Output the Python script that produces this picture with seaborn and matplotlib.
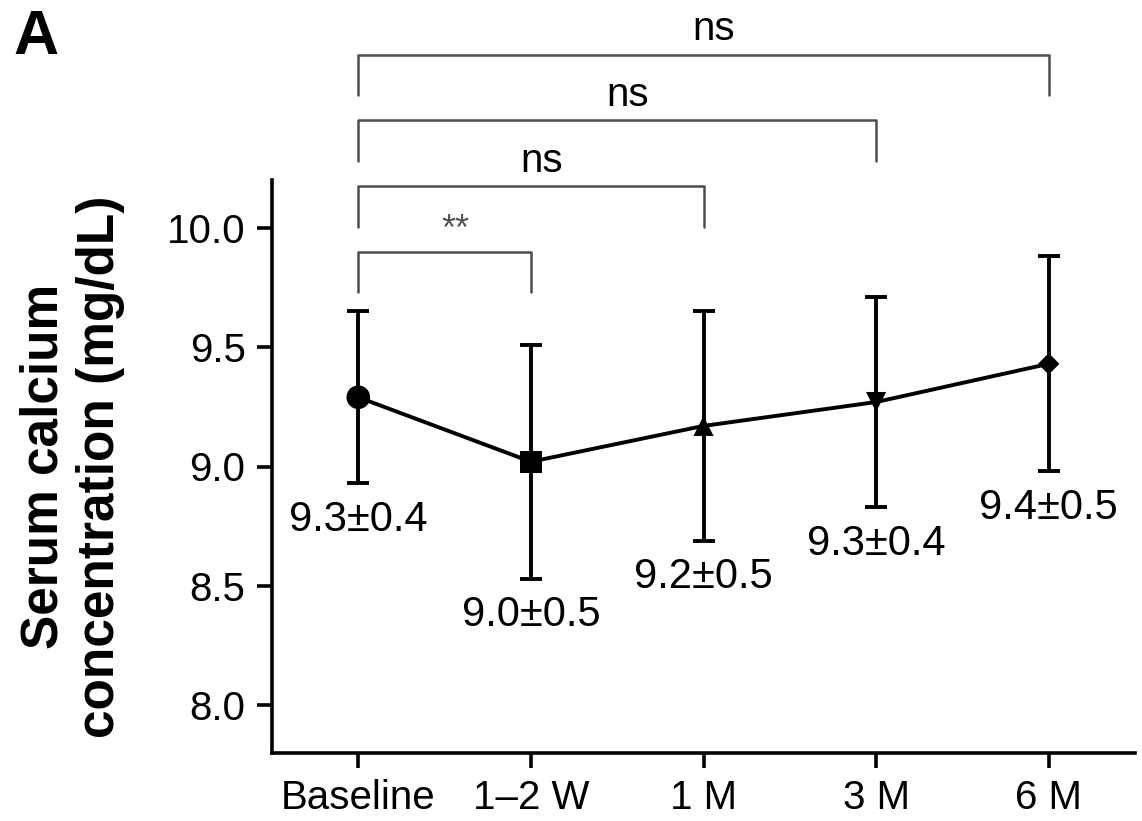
import numpy as np
import pandas as pd
import matplotlib.pyplot as plt
import seaborn as sns


#Values (mean and SD of serum calcium, mg/dL)
timepoints = ['Baseline', '1–2 W', '1 M', '3 M', '6 M']
calcium_mean = [9.29, 9.02, 9.17, 9.27, 9.43]
calcium_sd = [0.36, 0.49, 0.48, 0.44, 0.45]
value_labels = ['9.3±0.4', '9.0±0.5', '9.2±0.5', '9.3±0.4', '9.4±0.5']
y_ticks = [8.0, 8.5, 9.0, 9.5, 10.0]

#Comparisons against baseline: (index of other timepoint, significance label)
comparisons = [(1, '**'), (2, 'ns'), (3, 'ns'), (4, 'ns')]

#Marker shape and size for each timepoint
marker_shapes = dict(zip(timepoints, ['o', 's', '^', 'v', 'D']))
marker_sizes = dict(zip(timepoints, [290, 250, 210, 210, 120]))


#Build the DataFrame
df = pd.DataFrame({'timepoint': timepoints,
                   'pos': np.arange(len(timepoints)),
                   'mean': calcium_mean,
                   'sd': calcium_sd})

#Style and fonts
sns.set_style('ticks')
plt.rcParams['font.family'] = ['Liberation Sans', 'DejaVu Sans']
plt.rcParams['text.color'] = 'k'
plt.rcParams['axes.labelcolor'] = 'k'
plt.rcParams['xtick.color'] = 'k'
plt.rcParams['ytick.color'] = 'k'

fig = plt.figure(figsize=(11.42, 8.21), dpi=100)
ax = fig.add_axes([272/1142, 68/821, 863/1142, 573/821])

#Mean line
sns.lineplot(data=df, x='pos', y='mean', color='k', lw=2.8, ax=ax, zorder=2)
#Error bars (SD)
ax.errorbar(df['pos'], df['mean'], yerr=df['sd'], fmt='none', ecolor='k',
            elinewidth=2.8, capsize=8, capthick=2.8, zorder=2)
#Markers with a different shape per timepoint
sns.scatterplot(data=df, x='pos', y='mean', style='timepoint', size='timepoint',
                markers=marker_shapes, sizes=marker_sizes, color='k',
                linewidth=0, legend=False, ax=ax, zorder=3)

#Mean ± SD text below each error bar
for i, row in df.iterrows():
    ax.annotate(value_labels[i], (row['pos'], row['mean'] - row['sd']),
                xytext=(0, -12), textcoords='offset points',
                ha='center', va='top', fontsize=30, color='k')

#Significance brackets above the plot
bar_base = 9.90
bar_step = 0.275
leg = 0.17
for k, (j, label) in enumerate(comparisons):
    h = bar_base + k*bar_step
    ax.plot([0, 0, j, j], [h - leg, h, h, h - leg], color='#4d4d4d', lw=1.8,
            clip_on=False, zorder=1)
    if label == '**':
        ax.text(j/2 + 0.06, h + 0.05, label, ha='center', va='baseline',
                fontsize=26, color='#555555', clip_on=False)
    else:
        ax.text(j/2 + 0.06, h + 0.06, label, ha='center', va='baseline',
                fontsize=29, color='k', clip_on=False)

#Axes, ticks and labels
ax.set_xlim(-0.5, 4.5)
ax.set_ylim(7.8, 10.2)
ax.set_xticks(df['pos'])
ax.set_xticklabels(timepoints)
ax.set_yticks(y_ticks)
ax.set_yticklabels(['{:.1f}'.format(v) for v in y_ticks])
ax.tick_params(labelsize=29, length=11, width=2.6, pad=8, colors='k')
ax.set_xlabel('')
ax.set_ylabel('Serum calcium\nconcentration (mg/dL)', fontsize=37,
              fontweight='bold', labelpad=30, color='k')
for s in ['left', 'bottom']:
    ax.spines[s].set_linewidth(2.6)
    ax.spines[s].set_color('k')
sns.despine(ax=ax)

#Panel letter
fig.text(13/1142, 1 - 8/821, 'A', fontsize=45, fontweight='bold',
         ha='left', va='top', color='k')

fig.savefig('out.png', dpi=100)
